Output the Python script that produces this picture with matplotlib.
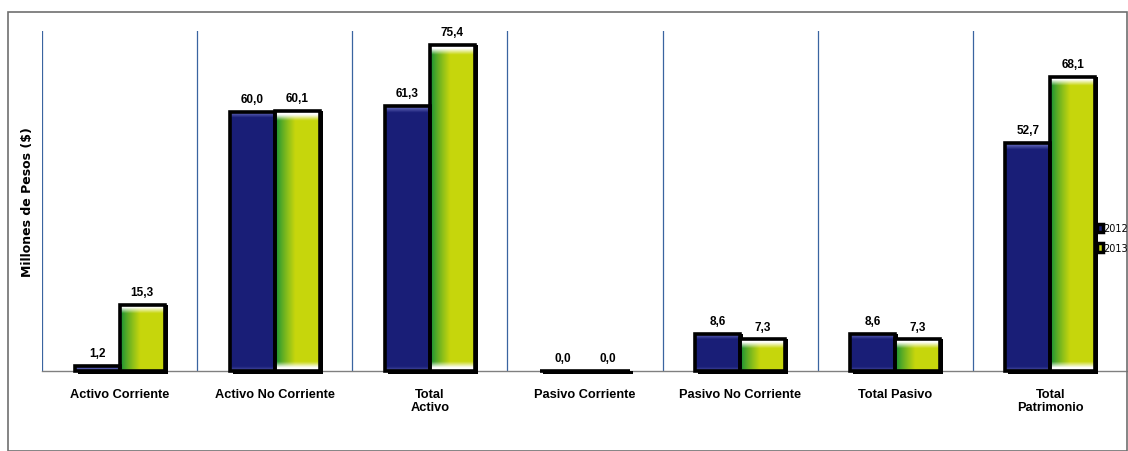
import numpy as np
import matplotlib.pyplot as plt
from matplotlib.patches import Rectangle, Patch

# Datos (millones de pesos)
categorias = ['Activo Corriente', 'Activo No Corriente', 'Total\nActivo', 'Pasivo Corriente',
              'Pasivo No Corriente', 'Total Pasivo', 'Total\nPatrimonio']
valores_2012 = [1.2, 60.0, 61.3, 0.0, 8.6, 8.6, 52.7]
valores_2013 = [15.3, 60.1, 75.4, 0.0, 7.3, 7.3, 68.1]
anios = ['2012', '2013']

fuente = ['Liberation Sans', 'DejaVu Sans']
plt.rcParams['font.family'] = fuente

W, H = 1128, 452
fig = plt.figure(figsize=(W / 100, H / 100), dpi=100)
ax = fig.add_axes([42 / W, 1 - 372 / H, 1 - 42 / W, (372 - 32) / H])

ymax = 78.7
ppu = (372 - 32) / ymax          # pixels per data unit (vertical)
ppx = (W - 42) / 7.0             # pixels per category

x = np.arange(len(categorias))
ancho = 0.29
dx = ancho / 2

navy = np.array([0.10, 0.12, 0.47])
blue_hi = np.array([0.45, 0.47, 0.78])
dgreen = np.array([0.04, 0.55, 0.22])
lgreen = np.array([0.78, 0.84, 0.05])


def grad_azul(h, n=300):
    y = np.linspace(h, 0, n)
    d = (h - y) * ppu
    db = y * ppu
    wt = np.clip(1 - d / 6, 0, 1)[:, None]
    wb = np.clip(1 - db / 4, 0, 1)[:, None] * 0.6
    c = navy * (1 - wt) + blue_hi * wt
    c = c * (1 - wb) + blue_hi * wb
    return c[:, None, :]


def grad_verde(h, n=300, m=60):
    t = np.linspace(0, 1, m)
    s = np.clip(t / 0.45, 0, 1) ** 0.8
    row = dgreen[None, :] * (1 - s[:, None]) + lgreen[None, :] * s[:, None]
    y = np.linspace(h, 0, n)
    d = (h - y) * ppu
    db = y * ppu
    wt = np.clip(1 - (d - 3) / 6, 0, 1)
    wb = np.clip(1 - (db - 3) / 6, 0, 1) if h > 20 else np.zeros(n)
    w = np.maximum(wt, wb)[:, None, None]
    img = row[None, :, :] * (1 - w) + np.ones(3) * w
    return img


sx = 3 / ppx
sy = 3 / ppu
for vals, off, tipo in [(valores_2012, -dx, 'azul'), (valores_2013, dx, 'verde')]:
    # sombra
    sombra = ax.bar(x + off + sx, [v + sy for v in vals], width=ancho, bottom=-sy,
                    color='black', zorder=2)
    barras = ax.bar(x + off, vals, width=ancho, facecolor='none', edgecolor='black',
                    linewidth=2.6, zorder=4)
    for b in list(sombra) + list(barras):
        b.set_clip_on(False)
    for b, v in zip(barras, vals):
        x0 = b.get_x()
        if v > 0:
            img = grad_azul(v) if tipo == 'azul' else grad_verde(v)
            ax.imshow(img, extent=[x0, x0 + ancho, 0, v], aspect='auto', origin='upper',
                      zorder=3, interpolation='bilinear')
        ax.text(x0 + ancho / 2, v + 1.6, f'{v:.1f}'.replace('.', ','), ha='center', va='bottom',
                fontsize=8.5, fontweight='bold')

# separadores
for s in np.arange(-0.5, len(categorias), 1.0):
    ax.axvline(s, color='#3a64a0', lw=0.9, zorder=1)

ax.set_xlim(-0.5, len(categorias) - 0.5)
ax.set_ylim(0, ymax)
ax.set_yticks([])
ax.set_xticks(x)
ax.set_xticklabels(categorias, fontsize=9.2, fontweight='bold', linespacing=1.1)
ax.tick_params(axis='x', length=0, pad=12)
for sp in ['top', 'right', 'left']:
    ax.spines[sp].set_visible(False)
ax.spines['bottom'].set_color('#808080')
ax.spines['bottom'].set_linewidth(1)
ax.spines['bottom'].set_zorder(1)
ax.patch.set_alpha(0)

fig.text(28 / W, 1 - 202 / H, 'Millones de Pesos ($)', rotation=90, ha='center', va='center',
         fontsize=9, fontweight='bold', family=['DejaVu Sans'])

handles = [Patch(facecolor=navy, edgecolor='black', linewidth=2.5),
           Patch(facecolor=lgreen, edgecolor='black', linewidth=2.5)]
fig.legend(handles, anios, loc='center left', bbox_to_anchor=(1092 / W, 1 - 239 / H),
           frameon=False, handlelength=0.6, handleheight=0.9, handletextpad=0.1,
           labelspacing=1.0, borderpad=0, prop={'family': ['DejaVu Sans'], 'size': 7})

fig.add_artist(Rectangle((8 / W, 0.001), (W - 9) / W, (H - 13) / H, transform=fig.transFigure,
                         fill=False, edgecolor='#707070', lw=1.2))

plt.savefig('out.png', dpi=100)
